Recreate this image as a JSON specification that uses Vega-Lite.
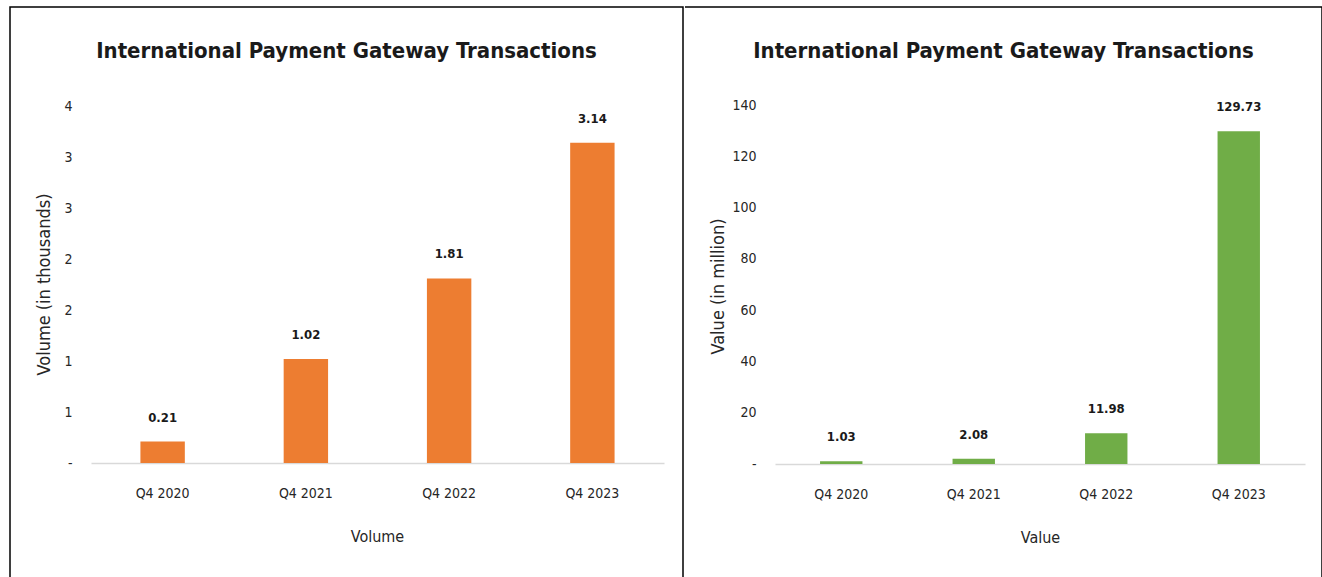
{
  "$schema": "https://vega.github.io/schema/vega-lite/v6.json",
  "padding": {"left": 9, "top": 6, "right": 0, "bottom": 0},
  "background": "white",
  "spacing": 0,
  "config": {
    "font": "DejaVu Sans Condensed",
    "view": {"stroke": "#000000", "strokeWidth": 1.5},
    "axis": {"labelFont": "DejaVu Sans Condensed", "titleFont": "DejaVu Sans Condensed"}
  },
  "hconcat": [
    {
      "width": 673,
      "height": 570,
      "view": {"stroke": "#000000", "strokeWidth": 1.5, "strokeDash": [1243, 673, 570]},
      "title": {"text": "International Payment Gateway Transactions", "fontSize": 22, "fontWeight": "bold", "color": "#1a1a1a", "anchor": "middle", "baseline": "middle", "offset": -66, "font": "DejaVu Sans Condensed"},
      "data": {"values": [
        {"quarter": "Q4 2020", "volume": 0.21},
        {"quarter": "Q4 2021", "volume": 1.02},
        {"quarter": "Q4 2022", "volume": 1.81},
        {"quarter": "Q4 2023", "volume": 3.14}
      ]},
      "encoding": {
        "x": {"field": "quarter", "type": "nominal", "sort": null,
          "scale": {"range": [81, 654], "paddingInner": 0.69, "paddingOuter": 0.345},
          "axis": {"orient": "bottom", "offset": -114, "labelAngle": 0, "ticks": false, "tickSize": 0, "labelPadding": 23, "labelFontSize": 14, "labelColor": "#262626", "domainColor": "#d9d9d9", "domainWidth": 1.5, "title": "Volume", "titleFontSize": 16, "titleFontWeight": "normal", "titleColor": "#262626", "titleX": 367, "titleY": 73, "titleBaseline": "middle"}},
        "y": {"field": "volume", "type": "quantitative",
          "scale": {"domain": [0, 3.5], "range": [456, 99], "nice": false},
          "axis": {"orient": "left", "offset": -62, "values": [0, 0.5, 1, 1.5, 2, 2.5, 3, 3.5], "labelExpr": "datum.value == 0 ? '-' : format(datum.value, '.0f')", "ticks": false, "tickSize": 0, "labelPadding": 0, "domain": false, "grid": false, "labelFontSize": 14, "labelColor": "#262626", "title": "Volume  (in thousands)", "titleFontSize": 18, "titleFontWeight": "normal", "titleColor": "#262626", "titleX": -28, "titleY": 277, "titleAngle": -90, "titleBaseline": "middle", "titleAlign": "center"}}
      },
      "layer": [
        {"mark": {"type": "bar", "color": "#ed7d31"}},
        {"mark": {"type": "text", "baseline": "bottom", "dy": -17, "fontSize": 13, "fontWeight": "bold", "color": "#1a1a1a"},
          "encoding": {"text": {"field": "volume", "type": "quantitative", "format": ".2f"}}}
      ]
    },
    {
      "width": 637,
      "height": 570,
      "view": {"stroke": "#000000", "strokeWidth": 1.5, "strokeDash": [1207, 1207]},
      "title": {"text": "International Payment Gateway Transactions", "fontSize": 22, "fontWeight": "bold", "color": "#1a1a1a", "anchor": "middle", "baseline": "middle", "offset": -66, "font": "DejaVu Sans Condensed"},
      "data": {"values": [
        {"quarter": "Q4 2020", "value": 1.03},
        {"quarter": "Q4 2021", "value": 2.08},
        {"quarter": "Q4 2022", "value": 11.98},
        {"quarter": "Q4 2023", "value": 129.73}
      ]},
      "encoding": {
        "x": {"field": "quarter", "type": "nominal", "sort": null,
          "scale": {"range": [90, 620], "paddingInner": 0.68, "paddingOuter": 0.34},
          "axis": {"orient": "bottom", "offset": -113, "labelAngle": 0, "ticks": false, "tickSize": 0, "labelPadding": 23, "labelFontSize": 14, "labelColor": "#262626", "domainColor": "#d9d9d9", "domainWidth": 1.5, "title": "Value", "titleFontSize": 16, "titleFontWeight": "normal", "titleColor": "#262626", "titleX": 355, "titleY": 73, "titleBaseline": "middle"}},
        "y": {"field": "value", "type": "quantitative",
          "scale": {"domain": [0, 140], "range": [457, 98], "nice": false},
          "axis": {"orient": "left", "offset": -71, "values": [0, 20, 40, 60, 80, 100, 120, 140], "labelExpr": "datum.value == 0 ? '-' : format(datum.value, '.0f')", "ticks": false, "tickSize": 0, "labelPadding": 0, "domain": false, "grid": false, "labelFontSize": 14, "labelColor": "#262626", "title": "Value  (in million)", "titleFontSize": 18, "titleFontWeight": "normal", "titleColor": "#262626", "titleX": -38, "titleY": 279, "titleAngle": -90, "titleBaseline": "middle", "titleAlign": "center"}}
      },
      "layer": [
        {"mark": {"type": "bar", "color": "#70ad47"}},
        {"mark": {"type": "text", "baseline": "bottom", "dy": -17, "fontSize": 13, "fontWeight": "bold", "color": "#1a1a1a"},
          "encoding": {"text": {"field": "value", "type": "quantitative", "format": ".2f"}}}
      ]
    }
  ]
}
